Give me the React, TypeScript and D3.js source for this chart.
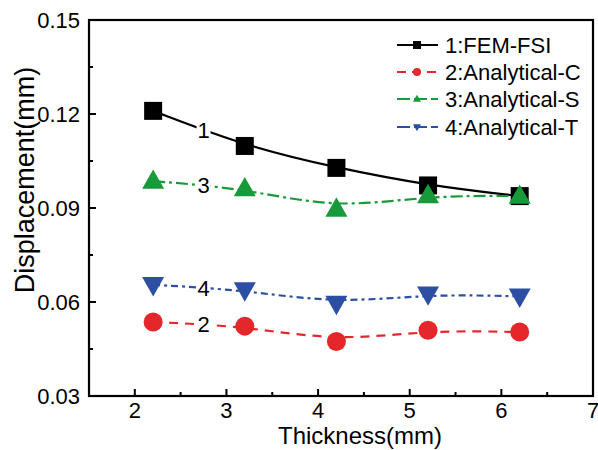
import React from "react";
import * as d3 from "d3";

const thickness = [2.2, 3.2, 4.2, 5.2, 6.2];
const femFsi = [0.121, 0.1098, 0.1028, 0.0972, 0.0938];
const analyticalC = [0.0536, 0.0523, 0.0474, 0.051, 0.0504];
const analyticalS = [0.0986, 0.0962, 0.0897, 0.094, 0.0938];
const analyticalT = [0.0655, 0.0638, 0.0595, 0.0625, 0.0618];
const seriesNames = ["1:FEM-FSI", "2:Analytical-C", "3:Analytical-S", "4:Analytical-T"];
const inlineLabels = ["1", "2", "3", "4"];
const xTicks = [2, 3, 4, 5, 6, 7];
const xMinor = [2.5, 3.5, 4.5, 5.5, 6.5];
const yTicks = [0.03, 0.06, 0.09, 0.12, 0.15];
const yMinor = [0.045, 0.075, 0.105, 0.135];

const W = 598, H = 450;
const L = 89, R = 593, T = 20, B = 396;
const FONT = "Arial, 'Liberation Sans', Helvetica, sans-serif";

type Marker = "square" | "circle" | "up" | "down";

function MarkerShape({ type, cx, cy, s, fill }: { type: Marker; cx: number; cy: number; s: number; fill: string }) {
  if (type === "square") return <rect x={cx - s / 2} y={cy - s / 2} width={s} height={s} fill={fill} />;
  if (type === "circle") return <circle cx={cx} cy={cy} r={s / 2} fill={fill} />;
  const h = s * 0.88;
  if (type === "up")
    return <path d={`M${cx},${cy - h * 0.6} L${cx + s / 2},${cy + h * 0.4} L${cx - s / 2},${cy + h * 0.4} Z`} fill={fill} />;
  return <path d={`M${cx},${cy + h * 0.6} L${cx + s / 2},${cy - h * 0.4} L${cx - s / 2},${cy - h * 0.4} Z`} fill={fill} />;
}

export default function App() {
  const x = d3.scaleLinear().domain([1.5, 7]).range([L, R]);
  const y = d3.scaleLinear().domain([0.03, 0.15]).range([B, T]);
  const fmt = d3.format(".2f");

  const series = [
    { name: seriesNames[0], vals: femFsi, color: "#000000", dash: "none", marker: "square" as Marker, size: 18, lab: inlineLabels[0], legDash: "none" },
    { name: seriesNames[1], vals: analyticalC, color: "#e5262b", dash: "9,7", marker: "circle" as Marker, size: 19, lab: inlineLabels[1], legDash: "9,6" },
    { name: seriesNames[2], vals: analyticalS, color: "#189a3b", dash: "12,4,3,4", marker: "up" as Marker, size: 22, lab: inlineLabels[2], legDash: "13,4" },
    { name: seriesNames[3], vals: analyticalT, color: "#2c4fa3", dash: "7,4,3,4", marker: "down" as Marker, size: 22, lab: inlineLabels[3], legDash: "13,4" },
  ];
  const labX = 2.75;

  const line = d3
    .line<number>()
    .x((_, i) => x(thickness[i]))
    .y((d) => y(d))
    .curve(d3.curveBasis);

  const labelY = (vals: number[], xv: number) => {
    const t = (xv - thickness[0]) / (thickness[1] - thickness[0]);
    return y(vals[0] + (vals[1] - vals[0]) * t);
  };

  const legendY = [45, 72, 99, 127];

  return (
    <svg width={W} height={H} style={{ position: "absolute", left: 0, top: 0, background: "#fff" }} fontFamily={FONT}>
      <rect x={0} y={0} width={W} height={H} fill="#fff" />
      {series.map((s, k) => (
        <path key={"l" + k} d={line(s.vals) || ""} fill="none" stroke={s.color} strokeWidth={2.2} strokeDasharray={s.dash} />
      ))}
      {series.map((s, k) => {
        const lx = x(labX);
        const ly = labelY(s.vals, labX);
        return (
          <g key={"il" + k}>
            <rect x={lx - 7} y={ly - 10} width={14} height={20} fill="#fff" />
            <text x={lx} y={ly + 8} textAnchor="middle" fontSize={22} fill="#000">
              {s.lab}
            </text>
          </g>
        );
      })}
      {series.map((s, k) =>
        s.vals.map((v, i) => (
          <MarkerShape key={`m${k}-${i}`} type={s.marker} cx={x(thickness[i])} cy={y(v)} s={s.size} fill={s.color} />
        ))
      )}
      <rect x={L} y={T} width={R - L} height={B - T} fill="none" stroke="#000" strokeWidth={2.2} />
      {yTicks.map((t) => (
        <g key={"yt" + t}>
          <line x1={L} x2={L + 7} y1={y(t)} y2={y(t)} stroke="#000" strokeWidth={2} />
          <text x={L - 9} y={y(t) + 7.5} textAnchor="end" fontSize={22} fill="#000">
            {fmt(t)}
          </text>
        </g>
      ))}
      {yMinor.map((t) => (
        <line key={"ym" + t} x1={L} x2={L + 4} y1={y(t)} y2={y(t)} stroke="#000" strokeWidth={2} />
      ))}
      {xTicks.map((t) => (
        <g key={"xt" + t}>
          {t < 7 && <line x1={x(t)} x2={x(t)} y1={B} y2={B - 7} stroke="#000" strokeWidth={2} />}
          <text x={x(t)} y={B + 21.5} textAnchor="middle" fontSize={22} fill="#000">
            {t}
          </text>
        </g>
      ))}
      {xMinor.map((t) => (
        <line key={"xm" + t} x1={x(t)} x2={x(t)} y1={B} y2={B - 4} stroke="#000" strokeWidth={2} />
      ))}
      <text x={360} y={444} textAnchor="middle" fontSize={24} fill="#000">
        Thickness(mm)
      </text>
      <text transform={`translate(34,${180}) rotate(-90)`} textAnchor="middle" fontSize={27} fill="#000">
        Displacement(mm)
      </text>
      {series.map((s, k) => (
        <g key={"lg" + k}>
          <line x1={397} x2={438} y1={legendY[k]} y2={legendY[k]} stroke={s.color} strokeWidth={2.2} strokeDasharray={s.legDash} />
          <MarkerShape type={s.marker} cx={417} cy={legendY[k]} s={8} fill={s.color} />
          <text x={445} y={legendY[k] + 8} fontSize={22} fill="#000">
            {s.name}
          </text>
        </g>
      ))}
    </svg>
  );
}
